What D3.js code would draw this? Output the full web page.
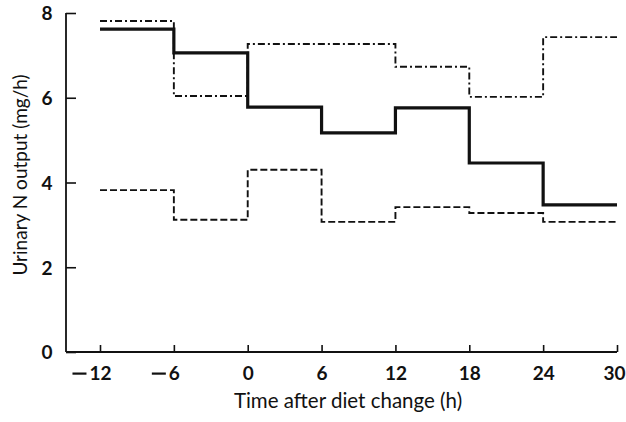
<!DOCTYPE html>
<html>
<head>
<meta charset="utf-8">
<script src="https://cdn.jsdelivr.net/npm/d3@7"></script>
<style>
  html, body { margin: 0; padding: 0; background: #fff; }
  svg { display: block; }
  text { font-family: Lato, "Open Sans", sans-serif; fill: #111; }
</style>
</head>
<body>
<svg id="chart" width="626" height="422"></svg>
<script>
// Start of each 6-h collection period (h relative to diet change)
const periodStarts = [-12, -6, 0, 6, 12, 18, 24];
const periodEnd = 30;

// Urinary N output (mg/h) per period
const solidSeries   = [7.62, 7.06, 5.78, 5.17, 5.76, 4.46, 3.47];
const dashDotSeries = [7.81, 6.04, 7.27, 7.27, 6.73, 6.02, 7.43];
const dashedSeries  = [3.82, 3.12, 4.30, 3.07, 3.42, 3.28, 3.07];

const xTicks = [-12, -6, 0, 6, 12, 18, 24, 30];
const yTicks = [0, 2, 4, 6, 8];

const svg = d3.select("#chart");
const axisX0 = 66;   // left edge of the frame (y axis position)

const x = d3.scaleLinear().domain([-12, 30]).range([100, 617]);
const y = d3.scaleLinear().domain([0, 8]).range([352, 13]);

// Y axis: ticks pointing inwards
const yAxis = d3.axisLeft(y).tickValues(yTicks).tickSizeInner(-10).tickSizeOuter(0);
const gy = svg.append("g").attr("transform", `translate(${axisX0},0)`).call(yAxis);
gy.select(".domain").remove();
gy.selectAll(".tick line").attr("stroke", "#111").attr("stroke-width", 1.6);
gy.selectAll(".tick text").attr("font-size", 19).attr("font-weight", 700)
  .attr("text-anchor", "middle").attr("x", -19).attr("dy", "0.36em");
svg.append("line").attr("x1", axisX0).attr("x2", axisX0)
  .attr("y1", y(8)).attr("y2", y(0)).attr("stroke", "#111").attr("stroke-width", 1.8);

// X axis: ticks pointing upwards; digits centred on the tick, minus sign hanging left
const xAxis = d3.axisBottom(x).tickValues(xTicks).tickSizeInner(-7).tickSizeOuter(0)
  .tickFormat(d => String(Math.abs(d))).tickPadding(15);
const gx = svg.append("g").attr("transform", `translate(0,${y(0)})`).call(xAxis);
gx.select(".domain").remove();
gx.selectAll(".tick line").attr("stroke", "#111").attr("stroke-width", 1.6);
gx.selectAll(".tick text").attr("font-size", 19).attr("font-weight", 700);
gx.selectAll(".tick").filter(d => d === 30).select("text").attr("x", -3);
gx.selectAll(".tick").each(function(d) {
  if (d >= 0) return;
  const t = d3.select(this).select("text");
  const w = t.node().getComputedTextLength();
  d3.select(this).append("rect")
    .attr("x", -w / 2 - 17).attr("y", 20.5)
    .attr("width", 14).attr("height", 2.2).attr("fill", "#111");
});
svg.append("line").attr("x1", axisX0).attr("x2", x(30))
  .attr("y1", y(0)).attr("y2", y(0)).attr("stroke", "#111").attr("stroke-width", 1.8);

// Axis titles
svg.append("text").attr("x", 348).attr("y", 408).attr("text-anchor", "middle")
  .attr("font-size", 20.5).text("Time after diet change (h)");
svg.append("text").attr("transform", "translate(27,175) rotate(-90)")
  .attr("text-anchor", "middle").attr("font-size", 19).text("Urinary N output (mg/h)");

// Step lines
function stepPoints(vals) {
  const pts = periodStarts.map((t, i) => [t, vals[i]]);
  pts.push([periodEnd, vals[vals.length - 1]]);
  return pts;
}
const line = d3.line().x(d => x(d[0])).y(d => y(d[1])).curve(d3.curveStepAfter);

svg.append("path").attr("d", line(stepPoints(dashDotSeries)))
  .attr("fill", "none").attr("stroke", "#111").attr("stroke-width", 1.9)
  .attr("stroke-dasharray", "7,3,2,3");
svg.append("path").attr("d", line(stepPoints(dashedSeries)))
  .attr("fill", "none").attr("stroke", "#111").attr("stroke-width", 1.9)
  .attr("stroke-dasharray", "7,3");
svg.append("path").attr("d", line(stepPoints(solidSeries)))
  .attr("fill", "none").attr("stroke", "#111").attr("stroke-width", 3.2);
</script>
</body>
</html>
